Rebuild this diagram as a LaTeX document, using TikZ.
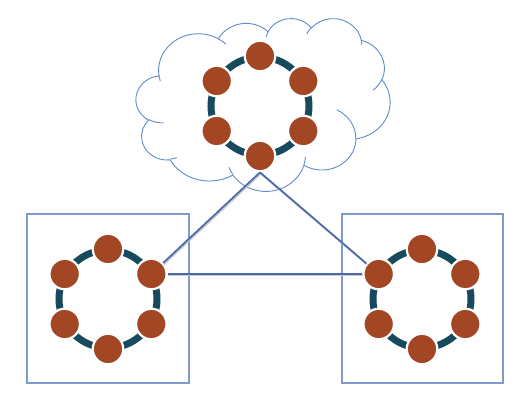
\documentclass[tikz,border=0pt]{standalone}
\usetikzlibrary{calc}
\definecolor{ringteal}{RGB}{23,74,92}
\definecolor{nodebrown}{RGB}{162,70,36}
\definecolor{boxblue}{RGB}{125,155,205}
\definecolor{linkblue}{RGB}{72,105,170}
\definecolor{cloudblue}{RGB}{95,140,205}
\begin{document}
\begin{tikzpicture}[x=1pt,y=-1pt,
  peer/.style={circle, fill=nodebrown, draw=white, line width=2.2pt, minimum size=30.5pt, inner sep=0pt},
  ringline/.style={draw=ringteal, line width=7pt},
  groupbox/.style={draw=boxblue, line width=1.1pt},
  link/.style={draw=linkblue, line width=1.7pt},
  linkshadow/.style={draw=black!22, line width=1.7pt, transform canvas={xshift=0.8pt,yshift=-1.3pt}},
  cloudline/.style={draw=cloudblue, line width=0.9pt}]
\useasboundingbox (0,0) rectangle (525,415);

% cloud (outline + inner arcs)
\begin{scope}[shift={(136,18)}, x=0.588pt, y=-0.40pt]
\draw[cloudline, fill=white] (39.00,143.70)
  arc[x radius=67.53, y radius=91.90, start angle=-187.745, delta angle=128.115]
  arc[x radius=53.33, y radius=72.67, start angle=-152.02, delta angle=106.56]
  arc[x radius=43.65, y radius=59.45, start angle=-153.49, delta angle=116.17]
  arc[x radius=48.57, y radius=65.95, start angle=-139.71, delta angle=129.50]
  arc[x radius=53.33, y radius=72.73, start angle=-74.78, delta angle=97.99]
  arc[x radius=67.75, y radius=92.20, start angle=-37.52, delta angle=119.38]
  arc[x radius=57.85, y radius=78.67, start angle=0.46, delta angle=121.52]
  arc[x radius=67.52, y radius=92.15, start angle=16.84, delta angle=129.39]
  arc[x radius=77.20, y radius=105.43, start angle=59.01, delta angle=91.15]
  arc[x radius=43.60, y radius=59.18, start angle=83.30, delta angle=139.79]
  arc[x radius=43.45, y radius=59.45, start angle=120.39, delta angle=143.72]
  -- cycle;
\draw[cloudline] (46.93,261.77) arc[x radius=43.45, y radius=59.45, start angle=85.54, delta angle=34.85];
\draw[cloudline] (69.28,348.99) arc[x radius=43.60, y radius=59.18, start angle=68.24, delta angle=15.06];
\draw[cloudline] (164.78,390.90) arc[x radius=67.52, y radius=92.15, start angle=146.23, delta angle=12.25];
\draw[cloudline] (288.27,347.51) arc[x radius=67.52, y radius=92.15, start angle=4.74, delta angle=12.10];
\draw[cloudline] (341.29,229.54) arc[x radius=57.85, y radius=78.67, start angle=-64.00, delta angle=64.46];
\draw[cloudline] (417.98,153.54) arc[x radius=53.33, y radius=72.73, start angle=23.21, delta angle=26.45];
\draw[cloudline] (383.24,54.26) arc[x radius=48.57, y radius=65.95, start angle=-10.21, delta angle=11.03];
\draw[cloudline] (290.78,39.52) arc[x radius=48.57, y radius=65.95, start angle=-156.28, delta angle=16.57];
\draw[cloudline] (221.41,47.20) arc[x radius=43.65, y radius=59.45, start angle=-167.73, delta angle=14.24];
\draw[cloudline] (140.00,51.92) arc[x radius=67.53, y radius=91.90, start angle=-59.63, delta angle=13.88];
\draw[cloudline] (41.27,157.89) arc[x radius=67.53, y radius=91.90, start angle=163.19, delta angle=9.07];
\end{scope}

% boxes
\draw[groupbox] (27,214) rectangle (189,383);
\draw[groupbox] (342,214) rectangle (503,383);

% rings
\coordinate (Cc) at (260,106);
\coordinate (Lc) at (108,299);
\coordinate (Rc) at (422,299);
\foreach \g in {C,L,R}{
  \draw[ringline] (\g c) circle[radius=49];
  \foreach \a/\n in {-90/t,-30/ur,30/lr,90/b,150/ll,-150/ul}
    \node[peer] (\g\n) at ($(\g c)+(\a:50)$) {};
}

% links
\draw[linkshadow] (Cb.south) -- (Lur);
\draw[linkshadow] (Cb.south) -- (Rul);
\draw[linkshadow] (Lur) -- (Rul);
\draw[link] (Cb.south) -- (Lur);
\draw[link] (Cb.south) -- (Rul);
\draw[link] (Lur) -- (Rul);
\end{tikzpicture}
\end{document}
